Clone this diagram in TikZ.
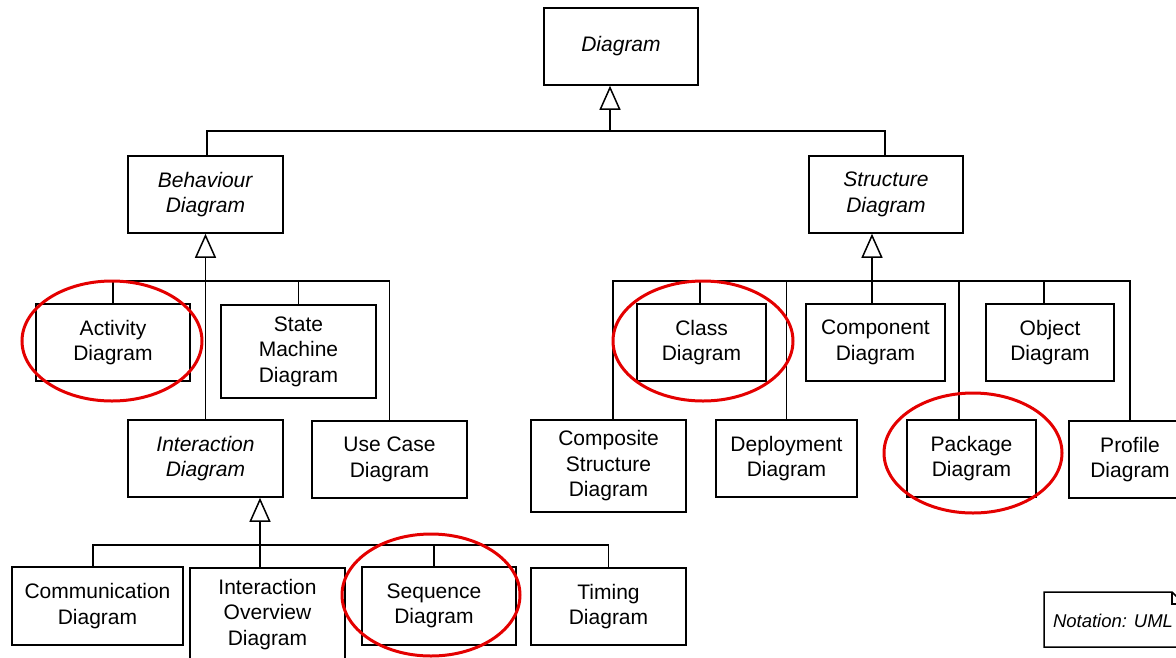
\documentclass[tikz,border=0pt]{standalone}
\usepackage{fontspec}
\setmainfont{Liberation Sans}
\usetikzlibrary{arrows.meta}
\definecolor{ringred}{RGB}{228,0,0}
\begin{document}
\begin{tikzpicture}[x=1pt,y=-1pt,
  line width=1.5pt,
  umlbox/.style={draw, align=center, inner sep=0pt, font=\fontsize{21}{25.5}\selectfont},
  gen/.style={-{Triangle[open,length=24pt,width=21pt]}},
  ring/.style={draw=ringred, line width=3pt},
]
\useasboundingbox (0,0) rectangle (1176,657);
\clip (0,0) rectangle (1176,657);

% root
\node[umlbox, minimum width=154pt, minimum height=77pt] (diag) at (621,46.5) {\textit{Diagram}};

% second level
\node[umlbox, minimum width=155pt, minimum height=77pt] (behav) at (205.5,194.5) {\textit{Behaviour}\\\textit{Diagram}};
\node[umlbox, minimum width=154pt, minimum height=77pt] (struct) at (886,194.5) {\textit{Structure}\\\textit{Diagram}};

% behaviour diagrams
\node[umlbox, minimum width=154pt, minimum height=77pt] (act) at (113,342.5) {Activity\\Diagram};
\node[umlbox, minimum width=155pt, minimum height=93pt] (state) at (298.5,351.5) {State\\Machine\\Diagram};
\node[umlbox, minimum width=155pt, minimum height=77pt] (inter) at (205.5,458.5) {\textit{Interaction}\\\textit{Diagram}};
\node[umlbox, minimum width=155pt, minimum height=77pt] (usecase) at (389.5,459.5) {Use Case\\Diagram};

% interaction diagrams
\node[umlbox, minimum width=171pt, minimum height=78pt] (comm) at (97.5,606) {Communication\\Diagram};
\node[umlbox, minimum width=155pt, minimum height=93pt] (overview) at (267.5,614.5) {Interaction\\Overview\\Diagram};
\node[umlbox, minimum width=154pt, minimum height=78pt] (seq) at (439,606) {Sequence\hspace*{10pt}\\Diagram\hspace*{10pt}};
\node[umlbox, minimum width=155pt, minimum height=77pt] (timing) at (608.5,606.5) {Timing\\Diagram};

% structure diagrams
\node[umlbox, minimum width=129pt, minimum height=77pt] (class) at (701.5,342.5) {Class\\Diagram};
\node[umlbox, minimum width=139pt, minimum height=77pt] (comp) at (875.5,342.5) {Component\\Diagram};
\node[umlbox, minimum width=128pt, minimum height=77pt] (obj) at (1050,342.5) {Object\\Diagram};
\node[umlbox, minimum width=155pt, minimum height=92pt] (composite) at (608.5,466) {Composite\\Structure\\Diagram};
\node[umlbox, minimum width=141pt, minimum height=77pt] (deploy) at (786.5,458.5) {Deployment\\Diagram};
\node[umlbox, minimum width=129pt, minimum height=77pt] (pkg) at (971.5,458.5) {Package\\Diagram};
\node[umlbox, minimum width=122pt, minimum height=77pt] (profile) at (1130,459.5) {Profile\\Diagram};

% junction points of the generalization trees
\coordinate (topbar) at (610,131);
\coordinate (bbar) at (205.5,281);
\coordinate (ibar) at (260,545);
\coordinate (itrunk) at (260,568);
\coordinate (sbar) at (872,281);
\coordinate (strunk) at (872,304);

% Diagram <- Behaviour, Structure
\draw[gen] (topbar) -- (diag.south -| topbar);
\draw ([xshift=1.5pt]behav.north) |- (topbar) -| ([xshift=-1pt]struct.north);

% Behaviour <- Activity, State Machine, Interaction, Use Case
\draw[gen] (inter.north) -- (behav.south);
\draw (act.north) |- (usecase.north |- bbar) -- (usecase.north);
\draw (state.north) -- (state.north |- bbar);

% Interaction <- Communication, Overview, Sequence, Timing
\draw[gen] (itrunk) -- (itrunk |- inter.south);
\draw ([xshift=-4.5pt]comm.north) |- (timing.north |- ibar) -- (timing.north);
\draw ([xshift=-5pt]seq.north) -- ([xshift=-5pt]seq.north |- ibar);

% Structure <- Class, Component, Object, Composite, Deployment, Package, Profile
\draw[gen] (strunk) -- (strunk |- struct.south);
\draw ([xshift=4.5pt]composite.north) |- (profile.north |- sbar) -- (profile.north);
\draw ([xshift=-1.5pt]class.north) -- ([xshift=-1.5pt]class.north |- sbar);
\draw ([xshift=-6pt]obj.north) -- ([xshift=-6pt]obj.north |- sbar);
\draw (deploy.north) -- (deploy.north |- sbar);
\draw ([xshift=-12.5pt]pkg.north) -- ([xshift=-12.5pt]pkg.north |- sbar);

% notation note with folded corner
\draw (1044,592) -- (1172,592) -- (1184,604) -- (1184,647) -- (1044,647) -- cycle;
\draw (1172,592) -- (1172,604) -- (1184,604);
\node[font=\fontsize{18.5}{22}\selectfont\itshape, anchor=center] (note) at (1113,621) {Notation: UML};

% highlight rings
\draw[ring] (112,341) ellipse [x radius=90pt, y radius=60pt];
\draw[ring] (703,341) ellipse [x radius=90pt, y radius=60pt];
\draw[ring] (973,453) ellipse [x radius=89pt, y radius=60pt];
\draw[ring] (431,595) ellipse [x radius=89pt, y radius=61pt];
\end{tikzpicture}
\end{document}
